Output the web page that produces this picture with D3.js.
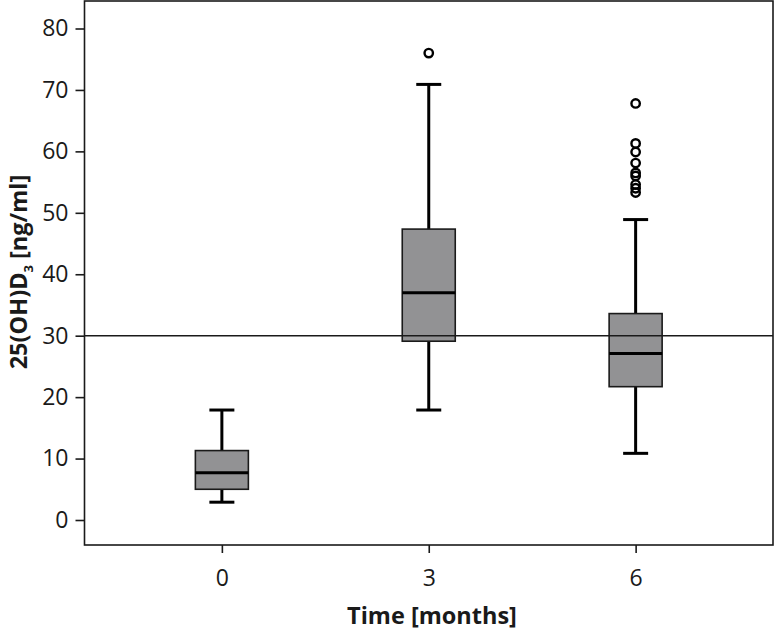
<!DOCTYPE html>
<html><head><meta charset="utf-8">
<script src="https://cdn.jsdelivr.net/npm/d3@7"></script>
<style>body{margin:0;background:#fff}svg{display:block}text{font-family:"Open Sans","Noto Sans",sans-serif;fill:#1a1a1a}</style>
</head><body>
<script>
const categories = ["0", "3", "6"];
const whiskerLow = [2.9, 17.9, 10.85];
const q1 = [5.0, 29.1, 21.7];
const median = [7.7, 37.0, 27.1];
const q3 = [11.3, 47.35, 33.6];
const whiskerHigh = [17.9, 70.9, 48.9];
const outliers = [[], [76.0], [67.8, 61.3, 59.9, 58.1, 56.5, 56.0, 54.6, 54.0, 53.3]];
const yTicks = [0, 10, 20, 30, 40, 50, 60, 70, 80];
const refValue = 30;

(function () {
const W = 775, H = 630;
const pLeft = 84.5, pRight = 773, pTop = 1, pBottom = 545;
const svg = d3.select("body").append("svg").attr("width", W).attr("height", H);

const y = d3.scaleLinear().domain([0, 80]).range([520, 28.5]);
const x = d3.scalePoint().domain(categories).range([pLeft, pRight]).padding(0.664);

// frame
svg.append("rect").attr("x", pLeft).attr("y", pTop).attr("width", pRight - pLeft).attr("height", pBottom - pTop)
  .attr("fill", "none").attr("stroke", "#1a1a1a").attr("stroke-width", 1.6);

// y axis
const yAxis = svg.append("g").attr("transform", `translate(${pLeft},0)`)
  .call(d3.axisLeft(y).tickValues(yTicks).tickSize(9).tickPadding(7).tickFormat(d3.format("d")));
yAxis.select(".domain").remove();
yAxis.selectAll("line").attr("stroke", "#1a1a1a").attr("stroke-width", 1.6);
yAxis.selectAll("text").attr("font-size", 23).attr("fill", "#1a1a1a").attr("font-family", '"Open Sans","Noto Sans",sans-serif');

// x axis
const xAxis = svg.append("g").attr("transform", `translate(0,${pBottom})`)
  .call(d3.axisBottom(x).tickSize(8).tickPadding(17));
xAxis.select(".domain").remove();
xAxis.selectAll("line").attr("stroke", "#1a1a1a").attr("stroke-width", 1.6);
xAxis.selectAll("text").attr("font-size", 23).attr("fill", "#1a1a1a").attr("font-family", '"Open Sans","Noto Sans",sans-serif');

const boxW = 53, capW = 25;
const g = svg.append("g");
categories.forEach((c, i) => {
  const cx = x(c);
  g.append("line").attr("x1", cx).attr("x2", cx).attr("y1", y(q3[i])).attr("y2", y(whiskerHigh[i]))
    .attr("stroke", "#000").attr("stroke-width", 3);
  g.append("line").attr("x1", cx).attr("x2", cx).attr("y1", y(q1[i])).attr("y2", y(whiskerLow[i]))
    .attr("stroke", "#000").attr("stroke-width", 3);
  [whiskerHigh[i], whiskerLow[i]].forEach(v => {
    g.append("line").attr("x1", cx - capW / 2).attr("x2", cx + capW / 2).attr("y1", y(v)).attr("y2", y(v))
      .attr("stroke", "#000").attr("stroke-width", 3);
  });
  g.append("rect").attr("x", cx - boxW / 2).attr("width", boxW)
    .attr("y", y(q3[i])).attr("height", y(q1[i]) - y(q3[i]))
    .attr("fill", "#929294").attr("stroke", "#1a1a1a").attr("stroke-width", 1.6);
  g.append("line").attr("x1", cx - boxW / 2).attr("x2", cx + boxW / 2).attr("y1", y(median[i])).attr("y2", y(median[i]))
    .attr("stroke", "#000").attr("stroke-width", 3);
  outliers[i].forEach(v => {
    g.append("circle").attr("cx", cx).attr("cy", y(v)).attr("r", 4.2)
      .attr("fill", "none").attr("stroke", "#000").attr("stroke-width", 2.4);
  });
});

// reference line on top
svg.append("line").attr("x1", pLeft).attr("x2", pRight).attr("y1", y(refValue)).attr("y2", y(refValue))
  .attr("stroke", "#1a1a1a").attr("stroke-width", 1.5);

// axis titles
svg.append("text").attr("x", 432).attr("y", 624).attr("text-anchor", "middle")
  .attr("font-size", 23.5).attr("font-weight", "bold").text("Time [months]");

const yl = svg.append("text").attr("transform", `translate(27,272) rotate(-90)`)
  .attr("text-anchor", "middle").attr("font-size", 23.5).attr("font-weight", "bold");
yl.append("tspan").text("25(OH)D");
yl.append("tspan").attr("font-size", 13).attr("dy", 6).text("3");
yl.append("tspan").attr("dy", -6).text(" [ng/ml]");
})();
</script>
</body></html>
